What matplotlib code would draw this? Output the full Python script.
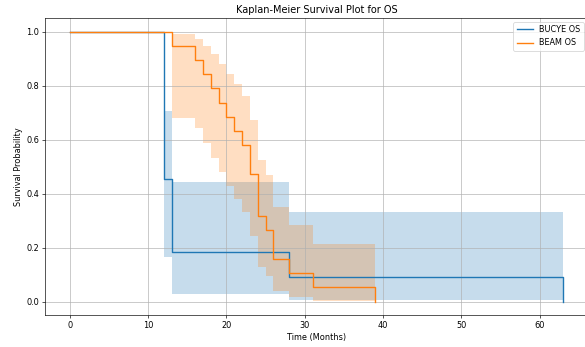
import matplotlib
matplotlib.use("Agg")
from matplotlib import pyplot as plt

# Kaplan-Meier estimates (step values + 95% CI)
bucye_time = [0, 12, 13, 28, 63]
bucye_surv = [1.0, 0.4545, 0.1818, 0.0909, 0.0]
bucye_lower = [1.0, 0.1666, 0.0285, 0.0054, 0.0]
bucye_upper = [1.0, 0.7071, 0.4419, 0.3329, 0.0]

beam_time = [0, 13, 16, 17, 18, 19, 20, 21, 22, 23, 24, 25, 26, 28, 31, 39]
beam_surv = [1.0, 0.9474, 0.8947, 0.8421, 0.7895, 0.7368, 0.6842, 0.6316,
             0.5789, 0.4737, 0.3158, 0.2632, 0.1579, 0.1053, 0.0526, 0.0]
beam_lower = [1.0, 0.6811, 0.6408, 0.5865, 0.5319, 0.4789, 0.4279, 0.3790,
              0.3321, 0.2444, 0.1291, 0.0958, 0.0392, 0.0178, 0.0036, 0.0]
beam_upper = [1.0, 0.9924, 0.9726, 0.9462, 0.9153, 0.8810, 0.8440, 0.8044,
              0.7627, 0.6728, 0.5225, 0.4678, 0.3494, 0.2844, 0.2143, 0.0]

x_ticks = [0, 10, 20, 30, 40, 50, 60]
y_ticks = [0.0, 0.2, 0.4, 0.6, 0.8, 1.0]

fig = plt.figure(figsize=(10, 347 / 58.5), dpi=58.5)
# axes run slightly past the right edge of the image, as in the original crop
ax = fig.add_axes([45 / 585, 32 / 347, 543 / 585, 297 / 347])

ax.fill_between(bucye_time, bucye_lower, bucye_upper, step="post",
                alpha=0.25, color="C0", linewidth=0)
ax.plot(bucye_time, bucye_surv, drawstyle="steps-post", color="C0",
        linewidth=1.7, label="BUCYE OS")

ax.fill_between(beam_time, beam_lower, beam_upper, step="post",
                alpha=0.25, color="C1", linewidth=0)
ax.plot(beam_time, beam_surv, drawstyle="steps-post", color="C1",
        linewidth=1.7, label="BEAM OS")

ax.set_xticks(x_ticks)
ax.set_yticks(y_ticks)
ax.set_title("Kaplan-Meier Survival Plot for OS")
ax.set_xlabel("Time (Months)")
ax.set_ylabel("Survival Probability")
ax.grid(True)
ax.legend(loc="upper right")

fig.savefig("out.png", dpi=58.5)
